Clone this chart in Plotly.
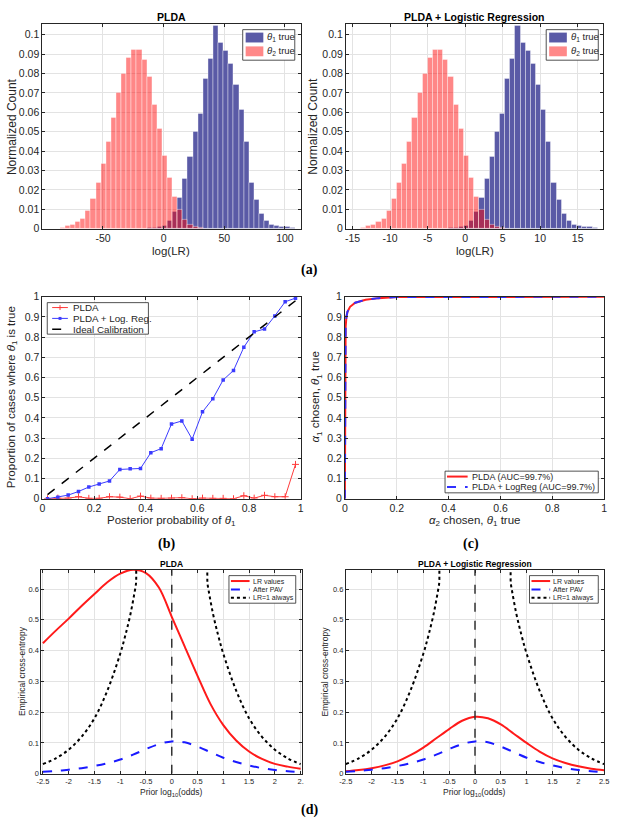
import plotly.graph_objects as go

W, H = 618, 827
FONT = "Liberation Sans"
TXT = "#262626"

# ---------------- data ----------------
# (a) normalized histograms (same shape for both systems, different bin scales)
hist_red = [0.0005, 0.0013, 0.002, 0.0034, 0.0054, 0.0095, 0.0157, 0.0237, 0.0333, 0.045,
            0.0572, 0.0699, 0.0797, 0.088, 0.092, 0.092, 0.0868, 0.0783, 0.064, 0.0513,
            0.0377, 0.0262, 0.0165, 0.0098, 0.0047, 0.0022, 0.001, 0.0004]
hist_blue = [0.0002, 0.0003, 0.0005, 0.0008, 0.0015, 0.004, 0.0085, 0.016, 0.026, 0.037,
             0.05, 0.059, 0.0775, 0.0876, 0.1046, 0.096, 0.0915, 0.085, 0.074, 0.0615,
             0.045, 0.0235, 0.0148, 0.0075, 0.004, 0.0018, 0.0015, 0.0012, 0.001, 0.0005]
plda_red_x0, plda_blue_x0, plda_dx = -83.2, -15.84, 4.21
lr_red_x0, lr_blue_x0, lr_dx = -13.56, -2.58, 0.686

# (b) reliability
post_prob = [0.02, 0.06, 0.10, 0.14, 0.18, 0.22, 0.26, 0.30, 0.34, 0.38, 0.42, 0.46, 0.50,
             0.54, 0.58, 0.62, 0.66, 0.70, 0.74, 0.78, 0.82, 0.86, 0.90, 0.94, 0.98]
rel_plda = [0.0, 0.003, 0.003, 0.01, 0.002, 0.002, 0.01, 0.008, 0.0, 0.013, 0.003, 0.002, 0.003,
            0.005, 0.0, 0.003, 0.002, 0.002, 0.0, 0.015, 0.003, 0.017, 0.01, 0.01, 0.17]
rel_lr = [0.0, 0.008, 0.018, 0.036, 0.058, 0.073, 0.088, 0.145, 0.148, 0.15, 0.228, 0.248, 0.37,
          0.385, 0.295, 0.43, 0.495, 0.588, 0.635, 0.75, 0.826, 0.84, 0.905, 0.975, 0.993]
ideal = [0.02, 0.98]

# (c) ROC
roc_fpr = [0, 0.0005, 0.001, 0.003, 0.006, 0.01, 0.02, 0.04, 0.08, 0.13, 0.2, 0.5, 1.0]
roc_tpr = [0, 0.5, 0.7, 0.85, 0.9, 0.925, 0.95, 0.97, 0.985, 0.993, 0.998, 1.0, 1.0]

# (d) empirical cross-entropy
prior = [-2.5, -2.25, -2.0, -1.75, -1.5, -1.25, -1.0, -0.75, -0.5, -0.25, 0.0, 0.25, 0.5, 0.75,
         1.0, 1.25, 1.5, 1.75, 2.0, 2.25, 2.5]
ece_plda = [0.424, 0.465, 0.504, 0.545, 0.584, 0.622, 0.65, 0.663, 0.652, 0.605, 0.51, 0.414,
            0.318, 0.227, 0.158, 0.108, 0.072, 0.048, 0.032, 0.023, 0.016]
ece_lr = [0.008, 0.012, 0.018, 0.027, 0.04, 0.06, 0.085, 0.115, 0.145, 0.172, 0.185, 0.18,
          0.16, 0.13, 0.1, 0.072, 0.05, 0.035, 0.024, 0.016, 0.011]
ece_pav = [0.006, 0.009, 0.013, 0.018, 0.025, 0.034, 0.046, 0.062, 0.08, 0.096, 0.105, 0.102,
           0.088, 0.07, 0.052, 0.038, 0.027, 0.018, 0.012, 0.008, 0.005]
prior_ref = [-2.5, -2.25, -2.0, -1.75, -1.5, -1.25, -1.0, -0.9, -0.8, -0.7, -0.6,
             0.6, 0.7, 0.8, 0.9, 1.0, 1.25, 1.5, 1.75, 2.0, 2.25, 2.5]
ece_ref = [0.031, 0.05, 0.078, 0.12, 0.18, 0.27, 0.39, 0.45, 0.52, 0.61, 0.71,
           0.71, 0.61, 0.52, 0.45, 0.39, 0.27, 0.18, 0.12, 0.078, 0.05, 0.031]

# ---------------- colours ----------------
C_BLUE_BAR = "#5a5aa6"
C_RED_BAR = "rgba(255,0,0,0.47)"
C_RED_BAR_LEG = "#ff8888"
C_REL_RED = "#ff3b3b"
C_REL_BLUE = "#3b3bff"
C_RED = "#ff1a1a"
C_BLUE = "#1a1aff"

# ---------------- helpers ----------------
def fx(px):
    return px / W

def fy(py):
    return 1 - py / H

boxes = {
    1: (37, 300, 18, 226),
    2: (346, 608, 18, 226),
    3: (37, 300, 295, 500),
    4: (345, 609, 295, 500),
    5: (36, 301, 572, 779),
    6: (346, 609, 572, 779),
}

fig = go.Figure()

def ax(i):
    return ("x" if i == 1 else f"x{i}"), ("y" if i == 1 else f"y{i}")

# (a) histograms
for i, (rx0, bx0, dx) in {1: (plda_red_x0, plda_blue_x0, plda_dx), 2: (lr_red_x0, lr_blue_x0, lr_dx)}.items():
    xa, ya = ax(i)
    fig.add_trace(go.Bar(y=hist_blue, x0=bx0, dx=dx, xaxis=xa, yaxis=ya,
                         marker=dict(color=C_BLUE_BAR, line=dict(color="rgba(255,255,255,0.55)", width=0.7)),
                         name="θ1 true", showlegend=False))
    fig.add_trace(go.Bar(y=hist_red, x0=rx0, dx=dx, xaxis=xa, yaxis=ya,
                         marker=dict(color=C_RED_BAR, line=dict(color="rgba(255,255,255,0.55)", width=0.7)),
                         name="θ2 true", showlegend=False))

# (b) reliability
fig.add_trace(go.Scatter(x=post_prob, y=rel_plda, xaxis="x3", yaxis="y3", mode="lines+markers",
                         line=dict(color=C_REL_RED, width=1),
                         marker=dict(symbol="cross-thin", size=5, line=dict(color=C_REL_RED, width=1)),
                         name="PLDA", showlegend=False))
fig.add_trace(go.Scatter(x=post_prob, y=rel_lr, xaxis="x3", yaxis="y3", mode="lines+markers",
                         line=dict(color=C_REL_BLUE, width=1),
                         marker=dict(symbol="square", size=3.5, color=C_REL_BLUE),
                         name="PLDA + Log. Reg.", showlegend=False))
fig.add_trace(go.Scatter(x=ideal, y=ideal, xaxis="x3", yaxis="y3", mode="lines",
                         line=dict(color="black", width=1.5, dash="dash"),
                         name="Ideal Calibration", showlegend=False))

# (c) ROC
fig.add_trace(go.Scatter(x=roc_fpr, y=roc_tpr, xaxis="x4", yaxis="y4", mode="lines",
                         line=dict(color="#ff2020", width=2), name="PLDA (AUC=99.7%)", showlegend=False))
fig.add_trace(go.Scatter(x=roc_fpr, y=roc_tpr, xaxis="x4", yaxis="y4", mode="lines",
                         line=dict(color="#3030ff", width=2, dash="dash"), name="PLDA + LogReg (AUC=99.7%)",
                         showlegend=False))

# (d) ECE
for i, red in {5: ece_plda, 6: ece_lr}.items():
    xa, ya = ax(i)
    fig.add_trace(go.Scatter(x=prior, y=red, xaxis=xa, yaxis=ya, mode="lines",
                             line=dict(color=C_RED, width=2, shape="spline"), name="LR values",
                             showlegend=False))
    fig.add_trace(go.Scatter(x=prior, y=ece_pav, xaxis=xa, yaxis=ya, mode="lines",
                             line=dict(color=C_BLUE, width=2, dash="dash", shape="spline"),
                             name="After PAV", showlegend=False))
    fig.add_trace(go.Scatter(x=prior_ref, y=ece_ref, xaxis=xa, yaxis=ya, mode="lines",
                             line=dict(color="black", width=2, dash="dot", shape="spline"),
                             name="LR=1 always", showlegend=False))
    fig.add_trace(go.Scatter(x=[0, 0], y=[0, 0.663], xaxis=xa, yaxis=ya, mode="lines",
                             line=dict(color="#333333", width=1.5, dash="dash"), showlegend=False,
                             hoverinfo="skip"))

layout = dict(
    width=W, height=H, margin=dict(l=0, r=0, t=0, b=0),
    paper_bgcolor="white", plot_bgcolor="white",
    barmode="overlay", bargap=0, showlegend=False,
    font=dict(family=FONT, color=TXT, size=10),
)

def axis_common(size):
    return dict(showline=True, linecolor="#262626", linewidth=1, mirror="ticks",
                ticks="inside", ticklen=3, tickcolor="#262626",
                showgrid=True, gridcolor="#e3e3e3", gridwidth=1, zeroline=False,
                tickfont=dict(family=FONT, size=size, color=TXT))

def hyph(v):
    return f"{v:g}"

xspec = {
    1: dict(range=[-100, 113], vals=[-50, 0, 50, 100], size=10.5),
    2: dict(range=[-15.9, 18.4], vals=[-15, -10, -5, 0, 5, 10, 15], size=10.5),
    3: dict(range=[0, 1], vals=[0, 0.2, 0.4, 0.6, 0.8, 1], size=10.5),
    4: dict(range=[0, 1], vals=[0, 0.2, 0.4, 0.6, 0.8, 1], size=10.5),
    5: dict(range=[-2.53, 2.52], vals=[-2.5, -2, -1.5, -1, -0.5, 0, 0.5, 1, 1.5, 2, 2.5], size=7.5),
    6: dict(range=[-2.5, 2.5], vals=[-2.5, -2, -1.5, -1, -0.5, 0, 0.5, 1, 1.5, 2, 2.5], size=7.5),
}
yspec = {
    1: dict(range=[0, 0.1056], vals=[0, 0.01, 0.02, 0.03, 0.04, 0.05, 0.06, 0.07, 0.08, 0.09, 0.1], size=10.5),
    2: dict(range=[0, 0.1056], vals=[0, 0.01, 0.02, 0.03, 0.04, 0.05, 0.06, 0.07, 0.08, 0.09, 0.1], size=10.5),
    3: dict(range=[0, 1], vals=[0, 0.1, 0.2, 0.3, 0.4, 0.5, 0.6, 0.7, 0.8, 0.9, 1], size=10.5),
    4: dict(range=[0, 1], vals=[0, 0.1, 0.2, 0.3, 0.4, 0.5, 0.6, 0.7, 0.8, 0.9, 1], size=10.5),
    5: dict(range=[0, 0.663], vals=[0, 0.1, 0.2, 0.3, 0.4, 0.5, 0.6], size=7.5),
    6: dict(range=[0, 0.663], vals=[0, 0.1, 0.2, 0.3, 0.4, 0.5, 0.6], size=7.5),
}

for i, (x0, x1, y0, y1) in boxes.items():
    xs, ys = xspec[i], yspec[i]
    xt = [hyph(v) for v in xs["vals"]]
    if i == 5:
        xt[-1] = "2."
    xa = axis_common(xs["size"])
    xa.update(domain=[fx(x0), fx(x1)], range=xs["range"], tickmode="array",
              tickvals=xs["vals"], ticktext=xt, anchor=("y" if i == 1 else f"y{i}"),
              ticklabelstandoff=0)
    ya = axis_common(ys["size"])
    ya.update(domain=[fy(y1), fy(y0)], range=ys["range"], tickmode="array",
              tickvals=ys["vals"], ticktext=[hyph(v) for v in ys["vals"]],
              anchor=("x" if i == 1 else f"x{i}"))
    layout["xaxis" if i == 1 else f"xaxis{i}"] = xa
    layout["yaxis" if i == 1 else f"yaxis{i}"] = ya

fig.update_layout(**layout)

# ---------------- text & hand-drawn legends ----------------
ann = []
shapes = []

def text(s, px, py, size, bold=False, angle=0, family=FONT, color=TXT, anchor="center"):
    if bold:
        s = f"<b>{s}</b>"
    ann.append(dict(text=s, x=fx(px), y=fy(py), xref="paper", yref="paper", showarrow=False,
                    xanchor=anchor, yanchor="middle", textangle=angle,
                    font=dict(family=family, size=size, color=color)))

def rect(x0, y0, x1, y1, fill, line_color=None, lw=0.8):
    shapes.append(dict(type="rect", xref="paper", yref="paper", layer="above",
                       x0=fx(x0), x1=fx(x1), y0=fy(y1), y1=fy(y0), fillcolor=fill,
                       line=dict(color=line_color or fill, width=lw if line_color else 0)))

def seg(x0, y0, x1, y1, color, width, dash="solid"):
    shapes.append(dict(type="line", xref="paper", yref="paper", layer="above",
                       x0=fx(x0), x1=fx(x1), y0=fy(y0), y1=fy(y1),
                       line=dict(color=color, width=width, dash=dash)))

# (a) legends
for bx in (241, 550):
    rect(bx, 24, bx + 53, 55, "white", "#262626")
    rect(bx + 3, 27, bx + 21, 37, C_BLUE_BAR)
    rect(bx + 3, 41, bx + 21, 51, C_RED_BAR_LEG)
    text("<i>θ</i><sub>1</sub> true", bx + 23, 31.5, 9.5, anchor="left")
    text("<i>θ</i><sub>2</sub> true", bx + 23, 45.5, 9.5, anchor="left")

# (b) legend
rect(42, 301, 145, 333, "white", "#262626")
seg(47, 306, 63, 306, C_REL_RED, 1)
seg(55, 303.5, 55, 308.5, C_REL_RED, 1)
seg(52.5, 306, 57.5, 306, C_REL_RED, 1)
text("PLDA", 66, 306, 9.8, anchor="left")
seg(47, 317, 63, 317, C_REL_BLUE, 1)
rect(53.5, 315.5, 56.5, 318.5, C_REL_BLUE)
text("PLDA + Log. Reg.", 66, 317, 9.8, anchor="left")
seg(47, 328, 63, 328, "black", 1.5, "dash")
text("Ideal Calibration", 66, 328, 9.8, anchor="left")

# (c) legend
rect(447, 472, 603, 494, "white", "#262626")
seg(449, 477.5, 470, 477.5, "#ff2020", 2)
text("PLDA (AUC=99.7%)", 472, 477.5, 9, anchor="left")
seg(449, 488, 470, 488, "#3030ff", 2, "dash")
text("PLDA + LogReg (AUC=99.7%)", 472, 488, 9, anchor="left")

# (d) legends
for bx, bw in ((227, 68), (533, 70)):
    rect(bx, 578, bx + bw, 606, "white", "#262626")
    seg(bx + 2, 583.5, bx + 21, 583.5, C_RED, 2)
    seg(bx + 2, 592, bx + 21, 592, C_BLUE, 2, "dash")
    seg(bx + 2, 600.5, bx + 21, 600.5, "black", 2, "dot")
    text("LR values", bx + 22, 583.5, 7, anchor="left")
    text("After PAV", bx + 22, 592, 7, anchor="left")
    text("LR=1 always", bx + 22, 600.5, 7, anchor="left")

text("PLDA", 168, 11, 10.5, bold=True, color="black")
text("PLDA + Logistic Regression", 477, 11, 10.5, bold=True, color="black")
text("log(LR)", 168, 249, 11.5)
text("log(LR)", 477, 249, 11.5)
text("Normalized Count", 6, 122, 12, angle=-90)
text("Normalized Count", 313, 122, 12, angle=-90)
text("(a)", 309, 268, 14, bold=True, family="Liberation Serif", color="black")

text("Posterior probability of <i>θ</i><sub>1</sub>", 168, 523, 11.5)
text("Proportion of cases where <i>θ</i><sub>1</sub> is true", 6, 397, 11.5, angle=-90)
text("<i>α</i><sub>2</sub> chosen, <i>θ</i><sub>1</sub> true", 477, 523, 11.5)
text("<i>α</i><sub>1</sub> chosen, <i>θ</i><sub>1</sub> true", 316, 397, 11.5, angle=-90)
text("(b)", 163, 546, 14, bold=True, family="Liberation Serif", color="black")
text("(c)", 473, 546, 14, bold=True, family="Liberation Serif", color="black")

text("PLDA", 168, 566, 8.5, bold=True, color="black")
text("PLDA + Logistic Regression", 477, 566, 8.5, bold=True, color="black")
text("Prior log<sub>10</sub>(odds)", 168, 798, 8.5)
text("Prior log<sub>10</sub>(odds)", 477, 798, 8.5)
text("Empirical cross-entropy", 16, 675, 8.5, angle=-90)
text("Empirical cross-entropy", 325, 675, 8.5, angle=-90)
text("(d)", 309, 816, 14, bold=True, family="Liberation Serif", color="black")

fig.update_layout(annotations=ann, shapes=shapes)

fig.write_html("out.html")
